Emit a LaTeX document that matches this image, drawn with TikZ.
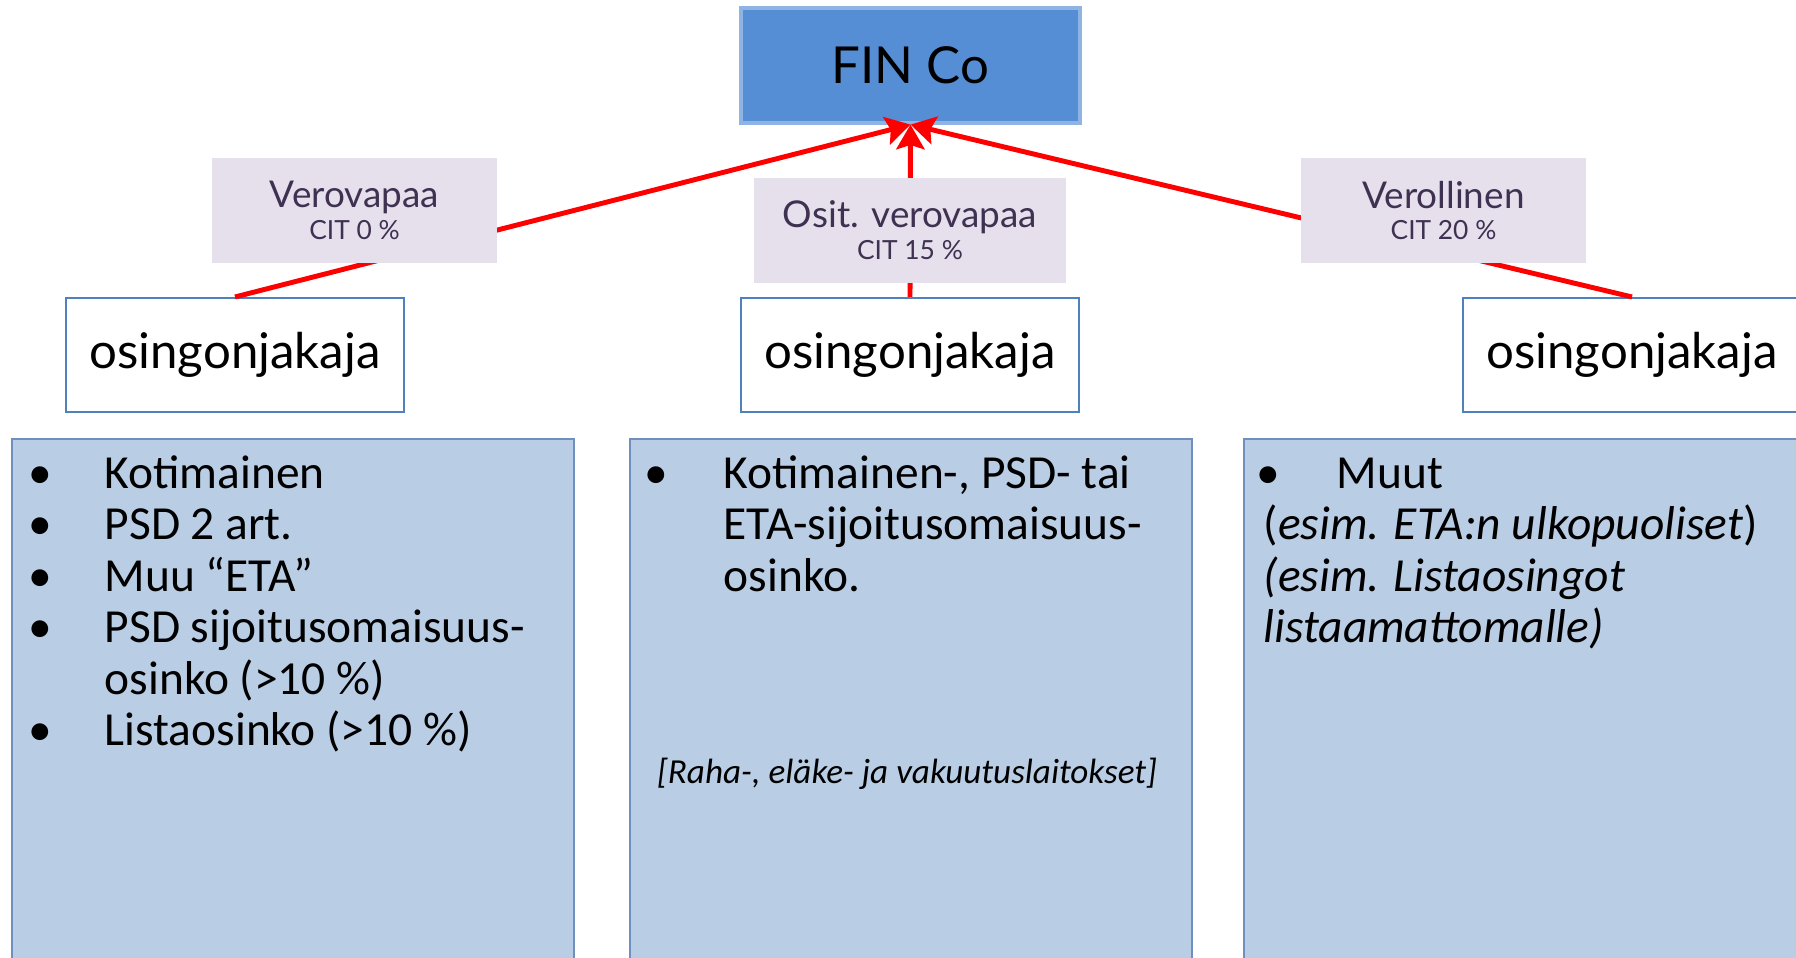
\documentclass[tikz,border=0pt]{standalone}
\usepackage{fontspec}
\setmainfont{Carlito}
\newfontfamily\headfont{Lato}
\usetikzlibrary{positioning, arrows.meta}
\definecolor{finblue}{HTML}{558ED5}
\definecolor{finrim}{HTML}{8EB4E3}
\definecolor{payrim}{HTML}{4F81BD}
\definecolor{taxfill}{HTML}{E6E0EC}
\definecolor{taxtext}{HTML}{3F3151}
\definecolor{listfill}{HTML}{B9CDE5}
\definecolor{listrim}{HTML}{6F8FBF}

\begin{document}
\begin{tikzpicture}[
    >={Stealth[length=7pt, width=8pt, inset=1.2pt]},
    payer/.style={draw=payrim, line width=0.6pt, fill=white, minimum width=3.38cm, minimum height=1.14cm, font=\headfont\fontsize{14}{16}\selectfont},
    taxlabel/.style={fill=taxfill, text=taxtext, minimum height=1.05cm, align=center, inner sep=0pt, font=\headfont\fontsize{10.5}{10}\selectfont},
    listbox/.style={draw=listrim, fill=listfill, line width=0.5pt, minimum width=5.62cm, minimum height=6cm, anchor=north west, inner sep=0pt},
    flow/.style={->, draw=red, line width=1.4pt},
    item/.style={anchor=base west, inner sep=0pt, font=\fontsize{13.5}{14.7}\selectfont},
    dot/.style={anchor=base, inner sep=0pt, font=\fontsize{13.5}{14.7}\selectfont},
]
    \clip (0, 0) rectangle (17.96, -9.57);

    % top company and the three payers
    \node [draw=finrim, fill=finblue, line width=0.9pt, minimum width=3.39cm, minimum height=1.15cm,
        font=\headfont\fontsize{14.5}{16}\selectfont] (fin) at (9.105, -0.655) {FIN Co};
    \node [payer] (payL) at (2.35, -3.55) {osingonjakaja};
    \node [payer] (payM) at (9.10, -3.55) {osingonjakaja};
    \node [payer] (payR) at (16.32, -3.55) {osingonjakaja};

    \draw [flow] (payL.north) -- (fin.south);
    \draw [flow] (payM.north) -- (fin.south);
    \draw [flow] (payR.north) -- (fin.south);

    % tax labels over the lines
    \node [taxlabel, minimum width=2.85cm] (taxL) at (3.545, -2.105)
        {Verovapaa\\[-1pt]{\fontsize{7.5}{9}\selectfont CIT 0 \%}};
    \node [taxlabel, minimum width=3.12cm] (taxM) at (9.10, -2.30)
        {Osit. verovapaa\\[-1pt]{\fontsize{7.5}{9}\selectfont CIT 15 \%}};
    \node [taxlabel, minimum width=2.85cm] (taxR) at (14.435, -2.105)
        {Verollinen\\[-1pt]{\fontsize{7.5}{9}\selectfont CIT 20 \%}};

    % dividend lists
    \node [listbox] (listL) at (0.11, -4.38) {};
    \node [listbox] (listM) at (6.29, -4.38) {};
    \node [listbox] (listR) at (12.43, -4.38) {};

    \foreach \row/\txt in {0/Kotimainen, 1/PSD 2 art., 2/Muu “ETA”, 3/PSD sijoitusomaisuus-, 5/Listaosinko (>10 \%)} {
        \node [dot] (dotL\row) at (0.40, {-4.88-0.515*\row}) {\textbullet};
        \node [item] (txtL\row) at (1.04, {-4.88-0.515*\row}) {\txt};
    }
    \node [item] (txtL4) at (1.04, -4.88-0.515*4) {osinko (>10 \%)};

    \node [dot] (dotM0) at (6.56, -4.88) {\textbullet};
    \foreach \row/\txt in {0/{Kotimainen-, PSD- tai}, 1/ETA-sijoitusomaisuus-, 2/osinko.} {
        \node [item] (txtM\row) at (7.23, {-4.88-0.515*\row}) {\txt};
    }
    \node [font=\itshape\fontsize{10}{12}\selectfont, inner sep=0pt] (bankM) at (9.07, -7.74)
        {[Raha-, eläke- ja vakuutuslaitokset]};

    \node [dot] (dotR0) at (12.68, -4.88) {\textbullet};
    \node [item] (txtR0) at (13.36, -4.88) {Muut};
    \node [item] (txtR1) at (12.63, -5.395) {(\textit{esim. ETA:n ulkopuoliset})};
    \node [item, font=\itshape\fontsize{13.5}{14.7}\selectfont] (txtR2) at (12.63, -5.91) {(esim. Listaosingot};
    \node [item, font=\itshape\fontsize{13.5}{14.7}\selectfont] (txtR3) at (12.63, -6.425) {listaamattomalle)};
\end{tikzpicture}
\end{document}
